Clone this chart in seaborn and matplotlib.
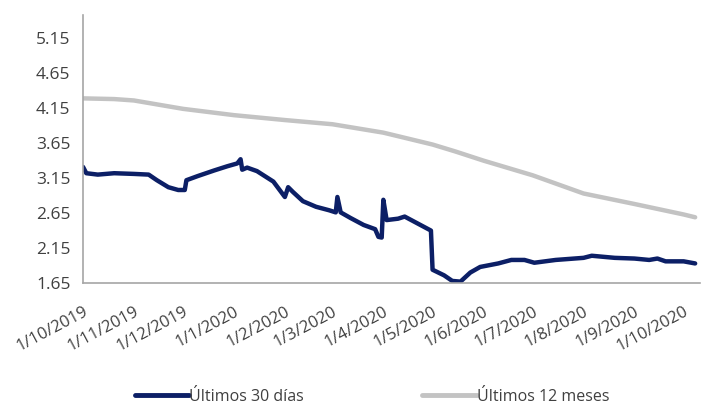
import matplotlib.pyplot as plt
import pandas as pd
import seaborn as sns

sns.set_theme(style="white")
plt.rcParams["font.family"] = ["Open Sans", "DejaVu Sans"]

dias30_fechas = [
    "2019-10-01", "2019-10-03", "2019-10-10", "2019-10-20", "2019-11-01",
    "2019-11-10", "2019-11-15", "2019-11-22", "2019-11-28", "2019-12-02",
    "2019-12-03", "2019-12-10", "2019-12-20", "2019-12-28", "2020-01-03",
    "2020-01-05", "2020-01-06", "2020-01-09", "2020-01-15", "2020-01-25",
    "2020-02-01", "2020-02-03", "2020-02-06", "2020-02-12", "2020-02-20",
    "2020-02-28", "2020-03-03", "2020-03-04", "2020-03-06", "2020-03-12",
    "2020-03-20", "2020-03-27", "2020-03-29", "2020-03-31", "2020-04-01",
    "2020-04-03", "2020-04-10", "2020-04-14", "2020-04-22", "2020-04-30",
    "2020-05-01", "2020-05-08", "2020-05-13", "2020-05-18", "2020-05-24",
    "2020-05-30", "2020-06-10", "2020-06-18", "2020-06-26", "2020-07-02",
    "2020-07-15", "2020-08-01", "2020-08-06", "2020-08-20", "2020-09-01",
    "2020-09-10", "2020-09-15", "2020-09-20", "2020-10-01", "2020-10-08",
]
dias30_valores = [
    3.31, 3.22, 3.20, 3.22, 3.21,
    3.20, 3.12, 3.02, 2.98, 2.98,
    3.12, 3.18, 3.26, 3.32, 3.36,
    3.42, 3.27, 3.30, 3.25, 3.10,
    2.88, 3.02, 2.95, 2.82, 2.74,
    2.69, 2.66, 2.88, 2.66, 2.58,
    2.48, 2.42, 2.31, 2.30, 2.84,
    2.55, 2.57, 2.60, 2.50, 2.40,
    1.84, 1.76, 1.68, 1.67, 1.80,
    1.88, 1.93, 1.98, 1.98, 1.94,
    1.98, 2.01, 2.04, 2.01, 2.00,
    1.98, 2.00, 1.96, 1.96, 1.93,
]

meses12_fechas = [
    "2019-10-01", "2019-10-20", "2019-11-01", "2019-12-01", "2020-01-01",
    "2020-02-01", "2020-03-01", "2020-04-01", "2020-05-01", "2020-05-15",
    "2020-06-01", "2020-07-01", "2020-08-01", "2020-09-01", "2020-10-01",
    "2020-10-08",
]
meses12_valores = [
    4.29, 4.28, 4.26, 4.14, 4.05,
    3.98, 3.92, 3.80, 3.63, 3.53,
    3.40, 3.19, 2.93, 2.78, 2.63,
    2.59,
]

serie_30 = "Últimos 30 días"
serie_12 = "Últimos 12 meses"
y_ticks = [1.65, 2.15, 2.65, 3.15, 3.65, 4.15, 4.65, 5.15]

NAVY = "#0c1f66"
GRAY = "#c3c3c3"
TEXT = "#404040"


def build_frame() -> pd.DataFrame:
    a = pd.DataFrame({"fecha": pd.to_datetime(dias30_fechas),
                      "valor": dias30_valores, "serie": serie_30})
    b = pd.DataFrame({"fecha": pd.to_datetime(meses12_fechas),
                      "valor": meses12_valores, "serie": serie_12})
    return pd.concat([a, b], ignore_index=True)


def main() -> None:
    df = build_frame()
    fig = plt.figure(figsize=(7.06, 4.09), dpi=100)
    ax = fig.add_axes([0.1176, 0.308, 0.874, 0.655])

    sns.lineplot(
        data=df, x="fecha", y="valor", hue="serie",
        hue_order=[serie_30, serie_12],
        palette={serie_30: NAVY, serie_12: GRAY},
        linewidth=3.2, ax=ax, legend=False,
    )

    ax.set_ylim(1.65, 5.48)
    ax.set_yticks(y_ticks)
    ax.set_yticklabels([f"{v:.2f}" for v in y_ticks])
    ax.set_xlim(pd.Timestamp("2019-10-01"), pd.Timestamp("2020-10-11"))
    ticks = pd.date_range("2019-10-01", "2020-10-01", freq="MS")
    ax.set_xticks(ticks)
    ax.set_xticklabels([f"{d.day}/{d.month}/{d.year}" for d in ticks],
                       rotation=28, ha="right", rotation_mode="anchor")
    ax.set_xlabel("")
    ax.set_ylabel("")

    for side in ("top", "right"):
        ax.spines[side].set_visible(False)
    for side in ("left", "bottom"):
        ax.spines[side].set_color("#a6a6a6")
        ax.spines[side].set_linewidth(1.2)
    ax.tick_params(axis="both", which="major", direction="out", length=5,
                   width=1.2, color="#a6a6a6", labelcolor=TEXT)
    ax.tick_params(axis="y", labelsize=12.5, pad=4)
    ax.tick_params(axis="x", labelsize=12, pad=10)

    handles = [
        plt.Line2D([], [], color=NAVY, linewidth=3.5),
        plt.Line2D([], [], color=GRAY, linewidth=3.5),
    ]
    fig.legend(handles, [serie_30, serie_12], loc="center",
               bbox_to_anchor=(0.527, 0.03), ncol=2, frameon=False,
               handlelength=3.4, handletextpad=0.0, columnspacing=7.4,
               prop={"size": 11.5}, labelcolor=TEXT)

    fig.savefig("out.png", dpi=100)
    plt.close(fig)


if __name__ == "__main__":
    main()
